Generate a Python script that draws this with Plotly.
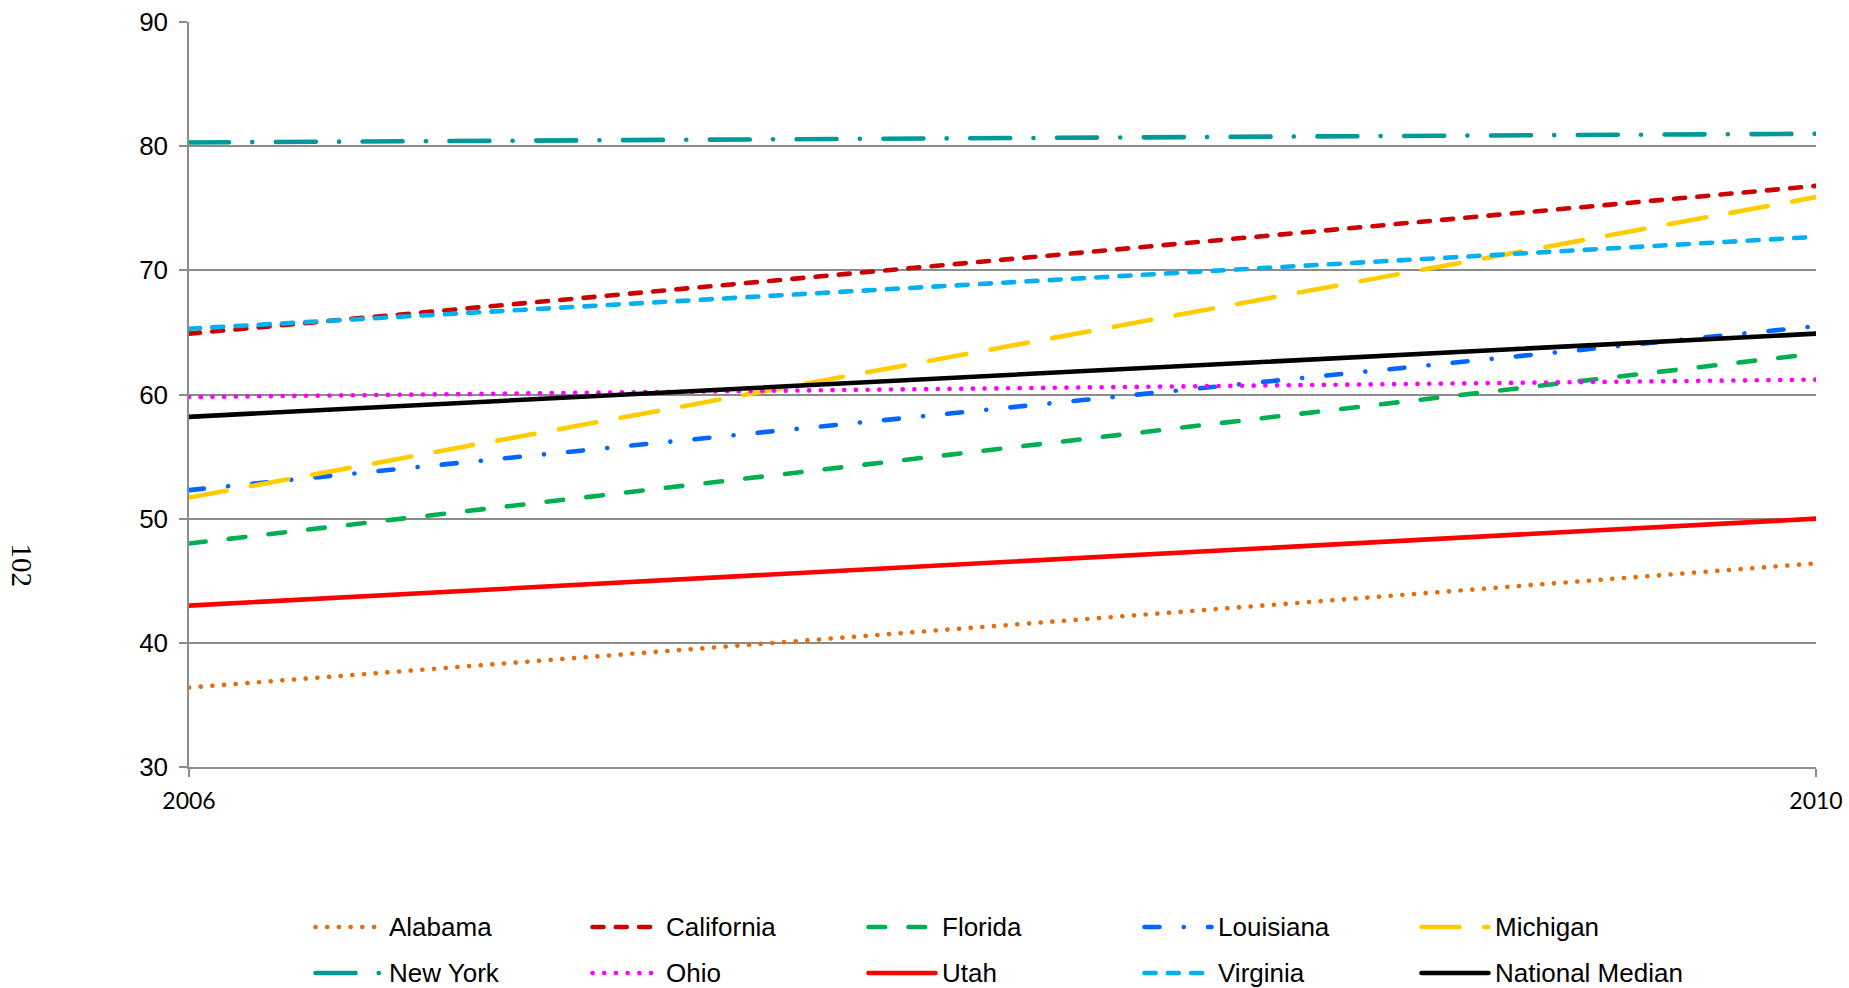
import plotly.graph_objects as go

# Values per state, 2006 and 2010
years = [2006, 2010]
year_labels = ["2006", "2010"]
alabama = [36.4, 46.4]
california = [64.9, 76.8]
florida = [48.0, 63.3]
louisiana = [52.3, 65.5]
michigan = [51.7, 75.9]
new_york = [80.3, 81.0]
ohio = [59.8, 61.2]
utah = [43.0, 50.0]
virginia = [65.3, 72.7]
national_median = [58.2, 64.9]

series_names = ["Alabama", "California", "Florida", "Louisiana", "Michigan",
                "New York", "Ohio", "Utah", "Virginia", "National Median"]
series_values = [alabama, california, florida, louisiana, michigan,
                 new_york, ohio, utah, virginia, national_median]

# Line styles (dash arrays are drawn with round caps)
styles = {
    "Alabama": ("#E46C0A", "0.1px,11.6px"),
    "California": ("#CC0000", "11px,12.3px"),
    "Florida": ("#00B050", "16.7px,23.3px"),
    "Louisiana": ("#0066FF", "15px,24.2px,0.1px,24.2px"),
    "Michigan": ("#FFCC00", "38px,24.7px"),
    "New York": ("#009999", "40px,23.2px,0.1px,23.5px"),
    "Ohio": ("#FF00FF", "0.1px,11.6px"),
    "Utah": ("#FF0000", "solid"),
    "Virginia": ("#00B0F0", "11px,12.3px"),
    "National Median": ("#000000", "solid"),
}

W, H = 1849, 988
ML, MR, MT, MB = 189, 33, 22, 221
plot_w = W - ML - MR
plot_h = H - MT - MB
LW = 4.6
GRID = "#8c8c8c"

fig = go.Figure()
for name, vals in zip(series_names, series_values):
    color, dash = styles[name]
    fig.add_trace(go.Scatter(
        x=years, y=vals, mode="lines", name=name,
        line=dict(color=color, width=LW, dash=dash),
        showlegend=False, hoverinfo="skip",
    ))

# Legend drawn as sample strokes and labels below the axis
def px_to_paper_x(px):
    return (px - ML) / plot_w

def px_to_paper_y(py):
    return (H - MB - py) / plot_h

col_x = [313, 590, 866, 1142, 1419]
row_y = [927, 973]
shapes = []
annotations = []
for i, name in enumerate(series_names):
    color, dash = styles[name]
    cx = col_x[i % 5]
    ry = row_y[i // 5]
    shapes.append(dict(
        type="line", xref="paper", yref="paper",
        x0=px_to_paper_x(cx + 2.5), x1=px_to_paper_x(cx + 69.5),
        y0=px_to_paper_y(ry), y1=px_to_paper_y(ry),
        line=dict(color=color, width=LW, dash=dash),
        layer="above",
    ))
    annotations.append(dict(
        text=name, xref="paper", yref="paper",
        x=px_to_paper_x(cx + 74), y=px_to_paper_y(ry),
        xanchor="left", yanchor="middle", showarrow=False,
        font=dict(family="Liberation Sans, Arial, sans-serif", size=26, color="#000000"),
    ))

annotations.append(dict(
    text="102", xref="paper", yref="paper",
    x=0, xshift=21.5 - ML, y=px_to_paper_y(565),
    xanchor="center", yanchor="middle", showarrow=False, textangle=90,
    font=dict(family="Liberation Serif, Times New Roman, serif", size=29, color="#000000"),
))

fig.update_layout(
    width=W, height=H,
    margin=dict(l=ML, r=MR, t=MT, b=MB, pad=0, autoexpand=False),
    paper_bgcolor="white", plot_bgcolor="white",
    shapes=shapes, annotations=annotations,
    showlegend=False,
)
fig.update_xaxes(
    range=[years[0], years[-1]], tickvals=years, ticktext=year_labels,
    showgrid=False, zeroline=False, automargin=False,
    showline=True, linecolor=GRID, linewidth=1.5,
    ticks="outside", ticklen=8, tickwidth=1.5, tickcolor=GRID,
    tickfont=dict(family="Lato, sans-serif", size=23, color="#000000"),
    ticklabelstandoff=5,
)
fig.update_yaxes(
    range=[30, 90], tick0=30, dtick=10,
    showgrid=True, gridcolor=GRID, gridwidth=1.5, zeroline=False, automargin=False,
    showline=True, linecolor=GRID, linewidth=1.5,
    ticks="outside", ticklen=8, tickwidth=1.5, tickcolor=GRID,
    tickfont=dict(family="Liberation Sans, Arial, sans-serif", size=26, color="#000000"),
    ticklabelstandoff=6,
)

round_caps = """
var gd = document.getElementById('{plot_id}');
function roundCaps() {
  gd.querySelectorAll('.scatterlayer path.js-line, .shapelayer path').forEach(function (p) {
    p.style.strokeLinecap = 'round';
  });
}
roundCaps();
gd.on('plotly_afterplot', roundCaps);
"""

fig.write_html("out.html", post_script=round_caps)
